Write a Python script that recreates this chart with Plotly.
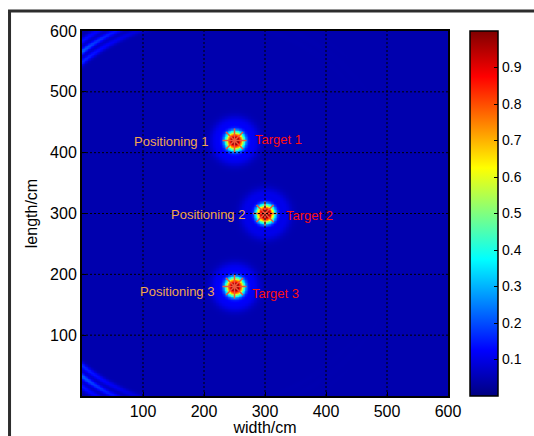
import numpy as np
import plotly.graph_objects as go

# ---- data ----
target_x = [250, 300, 250]
target_y = [420, 300, 180]
peak_amp = [1.0, 1.0, 1.0]
peak_radius = [15, 15, 15]          # main-lobe radius (cm)
halo_amp = [0.07, 0.06, 0.07]
halo_radius = [30, 32, 30]
pos_labels = ["Positioning 1", "Positioning 2", "Positioning 3"]
tgt_labels = ["Target 1", "Target 2", "Target 3"]
pos_label_x = [210, 270, 220]
pos_label_y = [418, 299, 171]
tgt_label_x = [280, 331, 275]
tgt_label_y = [422, 296, 169]
background_level = 0.045
far_ring_center = (200, 300)
far_ring_radii = [320, 334, 348]
far_ring_amp = [0.12, 0.17, 0.10]
axis_ticks = [100, 200, 300, 400, 500, 600]
grid_ticks = [100, 200, 300, 400, 500]
cbar_ticks = [0.1, 0.2, 0.3, 0.4, 0.5, 0.6, 0.7, 0.8, 0.9]

# ---- field ----
xs = np.linspace(0, 600, 241)
ys = np.linspace(0, 600, 241)
X, Y = np.meshgrid(xs, ys)
Z = np.full_like(X, background_level)
for cx, cy, a, r0, ha, hr in zip(target_x, target_y, peak_amp, peak_radius, halo_amp, halo_radius):
    R = np.hypot(X - cx, Y - cy)
    Z = Z + a * np.exp(-(R / r0) ** 2.6) + ha * np.exp(-((R - hr) / 12.0) ** 2)
Rf = np.hypot(X - far_ring_center[0], Y - far_ring_center[1])
edge_weight = np.exp(-X / 90.0)
for rr, aa in zip(far_ring_radii, far_ring_amp):
    Z = Z + aa * edge_weight * np.exp(-((Rf - rr) / 5.0) ** 2)
Z = np.clip(Z, 0, 1)

jet = [[0.0, "rgb(0,0,128)"], [0.125, "rgb(0,0,255)"], [0.375, "rgb(0,255,255)"],
       [0.625, "rgb(255,255,0)"], [0.875, "rgb(255,0,0)"], [1.0, "rgb(128,0,0)"]]

fig = go.Figure()
fig.add_trace(go.Heatmap(
    x=xs, y=ys, z=Z, colorscale=jet, zmin=0, zmax=1, zsmooth="best",
    colorbar=dict(
        x=1.06, xanchor="left", xpad=0, ypad=0, y=0.5, yanchor="middle", len=1.0, lenmode="fraction",
        thickness=28, thicknessmode="pixels", outlinecolor="black", outlinewidth=1.5,
        tickvals=cbar_ticks, ticktext=[f"{v:.1f}" for v in cbar_ticks],
        ticks="inside", ticklen=4, tickcolor="black",
        tickfont=dict(family="Liberation Sans, Arial", size=14, color="black"),
    ),
    hoverinfo="skip",
))
fig.add_trace(go.Scatter(
    x=target_x, y=target_y, mode="markers",
    marker=dict(symbol="asterisk-open", size=20, line=dict(color="red", width=1.5)),
    showlegend=False, hoverinfo="skip",
))

shapes = []
for g in grid_ticks:
    shapes.append(dict(type="line", xref="x", yref="y", x0=g, x1=g, y0=0, y1=600,
                       line=dict(color="black", width=1, dash="2px,2px"), layer="above"))
    shapes.append(dict(type="line", xref="x", yref="y", x0=0, x1=600, y0=g, y1=g,
                       line=dict(color="black", width=1, dash="2px,2px"), layer="above"))
shapes.append(dict(type="rect", xref="paper", yref="paper", x0=-0.198, x1=1.6, y0=-0.3, y1=1.0548,
                   line=dict(color="#2d2d2d", width=3), fillcolor="rgba(0,0,0,0)", layer="above"))

annotations = []
for t, x, y in zip(pos_labels, pos_label_x, pos_label_y):
    annotations.append(dict(x=x, y=y, xref="x", yref="y", text=t, showarrow=False, xanchor="right",
                            yanchor="middle", font=dict(family="Liberation Sans, Arial", size=13, color="#f2a650")))
for t, x, y in zip(tgt_labels, tgt_label_x, tgt_label_y):
    annotations.append(dict(x=x, y=y, xref="x", yref="y", text=t, showarrow=False, xanchor="left",
                            yanchor="middle", font=dict(family="Liberation Sans, Arial", size=13, color="#ff1010")))

axis_common = dict(range=[0, 600], tickvals=axis_ticks, ticktext=[str(v) for v in axis_ticks],
                   showgrid=False, zeroline=False, showline=True, linecolor="black", linewidth=2,
                   mirror=True, ticks="inside", ticklen=4, tickcolor="black", automargin=False,
                   tickfont=dict(family="Liberation Sans, Arial", size=16, color="black"))

fig.update_layout(
    width=534, height=436, autosize=False,
    margin=dict(l=82, r=86, t=31, b=40, pad=0, autoexpand=False),
    paper_bgcolor="white", plot_bgcolor="white",
    xaxis=dict(**axis_common, title=dict(text="width/cm", standoff=0,
               font=dict(family="Liberation Sans, Arial", size=16, color="black"))),
    yaxis=dict(**axis_common, title=dict(text="length/cm", standoff=8,
               font=dict(family="Liberation Sans, Arial", size=16, color="black"))),
    shapes=shapes, annotations=annotations, showlegend=False,
)
fig.write_html("out.html")
